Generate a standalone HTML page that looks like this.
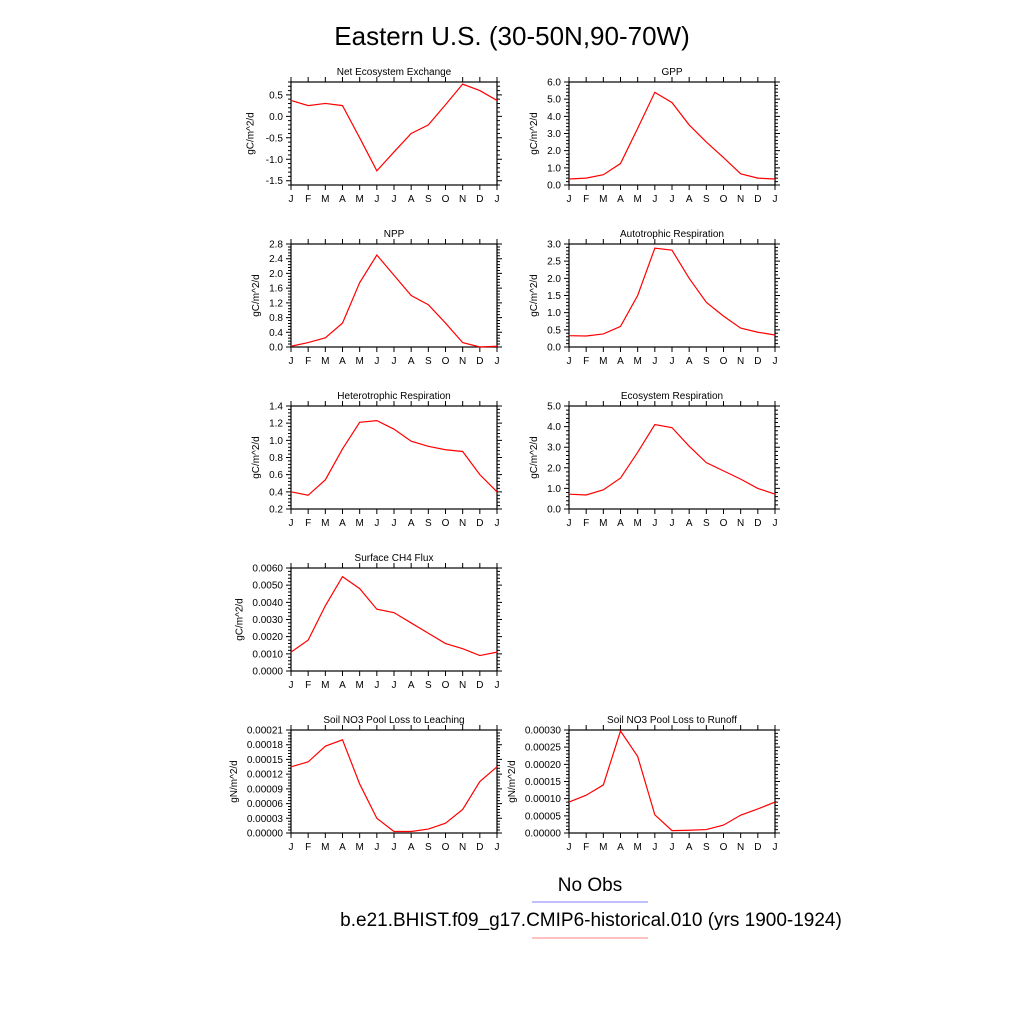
<!DOCTYPE html>
<html><head><meta charset="utf-8"><style>
body{margin:0;background:#fff}
svg{display:block;font-family:"Liberation Sans",sans-serif}
</style></head><body>
<svg id="s" width="1024" height="1024" viewBox="0 0 1024 1024">
<text x="512" y="45" font-size="26" text-anchor="middle">Eastern U.S. (30-50N,90-70W)</text>
<text x="590" y="891" font-size="19" text-anchor="middle">No Obs</text>
<line x1="532" y1="902" x2="648" y2="902" stroke="#8080ff" stroke-width="1"/>
<text x="591" y="926" font-size="19" text-anchor="middle">b.e21.BHIST.f09_g17.CMIP6-historical.010 (yrs 1900-1924)</text>
<line x1="532" y1="938" x2="648" y2="938" stroke="#ff8080" stroke-width="1"/>
</svg>
<script>
const months=["J","F","M","A","M","J","J","A","S","O","N","D","J"];
const neeVals=[0.37,0.25,0.30,0.25,-0.5,-1.27,-0.83,-0.4,-0.2,0.27,0.75,0.6,0.37];
const gppVals=[0.35,0.4,0.6,1.25,3.3,5.4,4.8,3.5,2.5,1.6,0.65,0.4,0.35];
const nppVals=[0.02,0.12,0.25,0.65,1.75,2.5,1.95,1.4,1.15,0.65,0.12,0.0,0.02];
const arVals=[0.33,0.32,0.38,0.6,1.5,2.88,2.82,2.0,1.3,0.9,0.55,0.43,0.35];
const hrVals=[0.4,0.36,0.54,0.9,1.21,1.23,1.13,0.99,0.93,0.89,0.87,0.6,0.4];
const erVals=[0.72,0.68,0.93,1.5,2.75,4.1,3.95,3.05,2.25,1.85,1.45,1.0,0.72];
const ch4Vals=[0.0011,0.0018,0.0038,0.0055,0.0048,0.0036,0.0034,0.0028,0.0022,0.0016,0.0013,0.0009,0.0011];
const leachVals=[0.000135,0.000145,0.000177,0.00019,0.0001,0.00003,0.000003,0.000003,0.000008,0.00002,0.000048,0.000105,0.000135];
const runoffVals=[0.00009,0.00011,0.00014,0.000297,0.000223,0.000053,0.000007,0.000008,0.00001,0.000023,0.000052,0.00007,0.00009];
const neeTicks=["-1.5","-1.0","-0.5","0.0","0.5"];
const gppTicks=["0.0","1.0","2.0","3.0","4.0","5.0","6.0"];
const nppTicks=["0.0","0.4","0.8","1.2","1.6","2.0","2.4","2.8"];
const arTicks=["0.0","0.5","1.0","1.5","2.0","2.5","3.0"];
const hrTicks=["0.2","0.4","0.6","0.8","1.0","1.2","1.4"];
const erTicks=["0.0","1.0","2.0","3.0","4.0","5.0"];
const ch4Ticks=["0.0000","0.0010","0.0020","0.0030","0.0040","0.0050","0.0060"];
const leachTicks=["0.00000","0.00003","0.00006","0.00009","0.00012","0.00015","0.00018","0.00021"];
const runoffTicks=["0.00000","0.00005","0.00010","0.00015","0.00020","0.00025","0.00030"];
const panels=[
 {n:"nee",t:"Net Ecosystem Exchange",c:0,r:0,v:neeVals,k:neeTicks,lo:-1.6,hi:0.8,u:"gC/m^2/d"},
 {n:"gpp",t:"GPP",c:1,r:0,v:gppVals,k:gppTicks,lo:0,hi:6,u:"gC/m^2/d"},
 {n:"npp",t:"NPP",c:0,r:1,v:nppVals,k:nppTicks,lo:0,hi:2.8,u:"gC/m^2/d"},
 {n:"ar",t:"Autotrophic Respiration",c:1,r:1,v:arVals,k:arTicks,lo:0,hi:3,u:"gC/m^2/d"},
 {n:"hr",t:"Heterotrophic Respiration",c:0,r:2,v:hrVals,k:hrTicks,lo:0.2,hi:1.4,u:"gC/m^2/d"},
 {n:"er",t:"Ecosystem Respiration",c:1,r:2,v:erVals,k:erTicks,lo:0,hi:5,u:"gC/m^2/d"},
 {n:"ch4",t:"Surface CH4 Flux",c:0,r:3,v:ch4Vals,k:ch4Ticks,lo:0,hi:0.006,u:"gC/m^2/d"},
 {n:"leach",t:"Soil NO3 Pool Loss to Leaching",c:0,r:4,v:leachVals,k:leachTicks,lo:0,hi:0.00021,u:"gN/m^2/d"},
 {n:"runoff",t:"Soil NO3 Pool Loss to Runoff",c:1,r:4,v:runoffVals,k:runoffTicks,lo:0,hi:0.0003,u:"gN/m^2/d"}
];
const NS="http://www.w3.org/2000/svg",S=document.getElementById("s");
function mk(tag,at,par,txt){const e=document.createElementNS(NS,tag);for(const a in at)e.setAttribute(a,at[a]);if(txt!==undefined)e.textContent=txt;(par||S).appendChild(e);return e;}
panels.forEach(p=>{
 const x0=[291,569][p.c],x1=x0+206,y0=[82,244,406,568,730][p.r],y1=y0+103;
 const g=mk("g",{});
 
 
 const X=i=>x0+(x1-x0)*i/12, Y=v=>y1-(y1-y0)*(v-p.lo)/(p.hi-p.lo);
 const tt=mk("text",{x:(x0+x1)/2,y:y0-7,"font-size":10,"text-anchor":"middle"},g,p.t);
 
 
 let d="";
 months.forEach((m,i)=>{const x=X(i);d+=`M${x},${y1}v5M${x},${y0}v-5`;
  const l=mk("text",{x:x,y:y1+17,"font-size":10,"text-anchor":"middle"},g,m);
  
  });
 let maxw=0;
 p.k.forEach((s,j)=>{const v=parseFloat(s),y=Y(v);d+=`M${x0},${y}h-5M${x1},${y}h5`;
  if(j<p.k.length-1){const v2=parseFloat(p.k[j+1]);for(let q=1;q<5;q++){const ym=Y(v+(v2-v)*q/5);d+=`M${x0},${ym}h-3M${x1},${ym}h3`;}}
  const l=mk("text",{x:x0-8,y:y+3.5,"font-size":10,"text-anchor":"end"},g,s);
  
  
  maxw=Math.max(maxw,s.length*5.6);});
 // minor ticks beyond ends
 const st=parseFloat(p.k[1])-parseFloat(p.k[0]);
 for(let q=1;q<5;q++){const v1=parseFloat(p.k[p.k.length-1])+st*q/5;if(v1<=p.hi)d+=`M${x0},${Y(v1)}h-3M${x1},${Y(v1)}h3`;const v0=parseFloat(p.k[0])-st*q/5;if(v0>=p.lo)d+=`M${x0},${Y(v0)}h-3M${x1},${Y(v0)}h3`;}
 const tk=mk("path",{d:d,stroke:"#000","stroke-width":1,fill:"none"},g);
 
 
 const fr=mk("rect",{x:x0,y:y0,width:x1-x0,height:y1-y0,fill:"none",stroke:"#000","stroke-width":1.2},g);
 
 
 const ax=x0-8-maxw-7,ay=(y0+y1)/2;
 const at=mk("text",{x:ax,y:ay,"font-size":10,"text-anchor":"middle",transform:`rotate(-90 ${ax} ${ay})`},g,p.u);
 
 
 const ln=mk("polyline",{points:p.v.map((v,i)=>X(i)+","+Y(v)).join(" "),fill:"none",stroke:"#ff0000","stroke-width":1.2},g);
 
 
});
</script>
</body></html>
